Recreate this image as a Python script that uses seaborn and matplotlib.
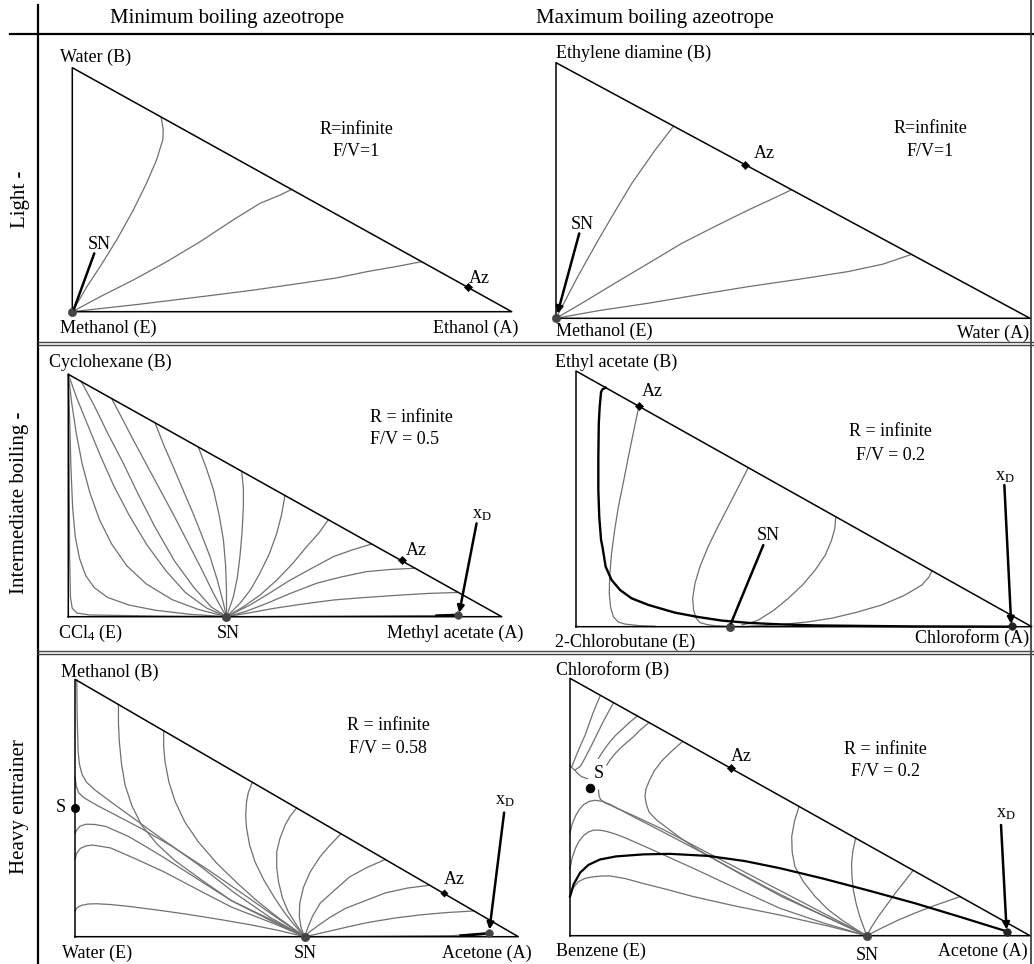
import matplotlib
matplotlib.use("Agg")
import matplotlib.pyplot as plt
import seaborn as sns
import pandas as pd

# ---------------------------------------------------------------------------
# data: profiles in triangle coordinates (x = x_A, y = x_B)
# ---------------------------------------------------------------------------

# light entrainer, min boiling azeotrope (methanol / ethanol / water)
p1_curves = [
    [(0, 0), (0.033, 0.102), (0.063, 0.184), (0.101, 0.294), (0.139, 0.417), (0.169, 0.527),
     (0.192, 0.623), (0.206, 0.705), (0.207, 0.746), (0.202, 0.798)],
    [(0, 0), (0.063, 0.061), (0.139, 0.130), (0.215, 0.205), (0.291, 0.287), (0.366, 0.376),
     (0.427, 0.444), (0.473, 0.478), (0.499, 0.501)],
    [(0, 0), (0.15, 0.03), (0.291, 0.061), (0.41, 0.088), (0.518, 0.116), (0.60, 0.138),
     (0.670, 0.164), (0.74, 0.186), (0.795, 0.205)],
]
p1_sn = (0.0, 0.0)
p1_az = (0.901, 0.102)
p1_sn_arrow = [(0.050, 0.239), (0.004, 0.012)]

# light entrainer, max boiling azeotrope (methanol / water / ethylene diamine)
p2_curves = [
    [(0, 0), (0.045, 0.16), (0.089, 0.306), (0.125, 0.42), (0.160, 0.528), (0.209, 0.658), (0.248, 0.752)],
    [(0, 0), (0.06, 0.065), (0.124, 0.137), (0.195, 0.215), (0.265, 0.293), (0.336, 0.36),
     (0.406, 0.424), (0.455, 0.466), (0.497, 0.503)],
    [(0, 0), (0.09, 0.03), (0.195, 0.059), (0.30, 0.092), (0.406, 0.124), (0.51, 0.152),
     (0.617, 0.183), (0.69, 0.212), (0.750, 0.250)],
]
p2_sn = (0.0, 0.0)
p2_az = (0.399, 0.600)
p2_sn_arrow = [(0.049, 0.332), (0.003, 0.018)]

# intermediate entrainer, min boiling azeotrope (CCl4 / methyl acetate / cyclohexane)
p3_curves = [
    [(0, 1), (0.002, 0.6), (0.003, 0.25), (0.005, 0.08), (0.009, 0.035), (0.02, 0.015), (0.05, 0.007),
     (0.2, 0.003), (0.365, 0)],
    [(0, 1), (0.003, 0.82), (0.006, 0.62), (0.010, 0.45), (0.016, 0.33), (0.026, 0.24), (0.04, 0.17),
     (0.06, 0.12), (0.09, 0.08), (0.14, 0.048), (0.2, 0.027), (0.28, 0.01), (0.365, 0)],
    [(0, 1), (0.008, 0.88), (0.018, 0.76), (0.032, 0.63), (0.05, 0.51), (0.072, 0.40), (0.1, 0.30),
     (0.135, 0.21), (0.18, 0.135), (0.24, 0.07), (0.3, 0.03), (0.365, 0)],
    [(0, 1), (0.02, 0.90), (0.045, 0.79), (0.075, 0.66), (0.105, 0.54), (0.14, 0.42), (0.18, 0.30),
     (0.225, 0.19), (0.27, 0.10), (0.32, 0.035), (0.365, 0)],
    [(0.03, 0.97), (0.06, 0.87), (0.09, 0.76), (0.125, 0.64), (0.16, 0.51), (0.2, 0.37), (0.245, 0.23),
     (0.29, 0.12), (0.33, 0.04), (0.365, 0)],
    [(0.1, 0.9), (0.125, 0.815), (0.15, 0.729), (0.181, 0.626), (0.212, 0.523), (0.243, 0.42),
     (0.273, 0.316), (0.305, 0.205), (0.335, 0.096), (0.352, 0.04), (0.365, 0)],
    [(0.2, 0.8), (0.221, 0.705), (0.242, 0.619), (0.265, 0.522), (0.288, 0.426), (0.308, 0.336),
     (0.327, 0.248), (0.344, 0.15), (0.358, 0.055), (0.365, 0)],
    [(0.3, 0.7), (0.319, 0.61), (0.335, 0.523), (0.348, 0.42), (0.358, 0.316), (0.363, 0.21),
     (0.365, 0.110), (0.365, 0)],
    [(0.4, 0.6), (0.404, 0.53), (0.404, 0.454), (0.401, 0.35), (0.396, 0.248), (0.39, 0.16),
     (0.381, 0.083), (0.365, 0)],
    [(0.5, 0.5), (0.492, 0.42), (0.481, 0.344), (0.464, 0.26), (0.442, 0.179), (0.42, 0.11),
     (0.396, 0.055), (0.365, 0)],
    [(0.6, 0.4), (0.578, 0.345), (0.55, 0.289), (0.518, 0.22), (0.481, 0.151), (0.443, 0.09),
     (0.404, 0.041), (0.365, 0)],
    [(0.7, 0.3), (0.656, 0.276), (0.612, 0.248), (0.562, 0.2), (0.512, 0.151), (0.465, 0.098),
     (0.419, 0.048), (0.365, 0)],
    [(0.8, 0.2), (0.745, 0.195), (0.688, 0.186), (0.63, 0.164), (0.573, 0.138), (0.515, 0.098),
     (0.458, 0.055), (0.41, 0.022), (0.365, 0)],
    [(0.9, 0.1), (0.83, 0.096), (0.765, 0.089), (0.69, 0.08), (0.612, 0.069), (0.54, 0.052),
     (0.473, 0.034), (0.415, 0.015), (0.365, 0)],
    [(0.365, 0), (0.6, 0.002), (0.86, 0.005), (0.9, 0.007)],
]
p3_profile = [(0.85, 0.004), (0.9, 0.007)]
p3_sn = (0.365, 0.0)
p3_az = (0.769, 0.232)
p3_xd = (0.9, 0.007)
p3_xd_arrow = [(0.942, 0.385), (0.902, 0.016)]

# intermediate entrainer, max boiling azeotrope (2-chlorobutane / chloroform / ethyl acetate)
p4_curves = [
    [(0.138, 0.862), (0.126, 0.76), (0.115, 0.665), (0.104, 0.565), (0.093, 0.469), (0.085, 0.38),
     (0.078, 0.287), (0.074, 0.2), (0.073, 0.130), (0.076, 0.075), (0.082, 0.039), (0.093, 0.018),
     (0.108, 0.010), (0.14, 0.004), (0.173, 0.002)],
    [(0.378, 0.622), (0.356, 0.545), (0.334, 0.469), (0.311, 0.39), (0.290, 0.313), (0.272, 0.235),
     (0.261, 0.169), (0.256, 0.11), (0.258, 0.065), (0.263, 0.035), (0.272, 0.016), (0.288, 0.008),
     (0.305, 0.004), (0.34, 0.001), (0.378, 0.0)],
    [(0.570, 0.430), (0.568, 0.385), (0.561, 0.339), (0.547, 0.28), (0.525, 0.222), (0.498, 0.165),
     (0.466, 0.111), (0.433, 0.063), (0.400, 0.026), (0.38, 0.013), (0.364, 0.007)],
    [(0.781, 0.219), (0.775, 0.195), (0.759, 0.163), (0.72, 0.122), (0.671, 0.085), (0.615, 0.056),
     (0.561, 0.033), (0.505, 0.018), (0.451, 0.009), (0.41, 0.004), (0.378, 0.002)],
]
p4_profile = [(0.065, 0.935), (0.058, 0.928), (0.055, 0.918), (0.052, 0.86), (0.050, 0.795), (0.049, 0.66),
              (0.049, 0.535), (0.051, 0.43), (0.055, 0.339), (0.058, 0.313), (0.065, 0.235), (0.078, 0.183),
              (0.097, 0.143), (0.122, 0.111), (0.159, 0.085), (0.217, 0.055), (0.268, 0.038), (0.32, 0.024),
              (0.378, 0.015), (0.45, 0.009), (0.525, 0.005), (0.63, 0.003), (0.744, 0.001), (0.956, 0.0)]
p4_sn = (0.338, 0.0)
p4_az = (0.138, 0.863)
p4_xd = (0.956, 0.003)
p4_sn_arrow = [(0.411, 0.319), (0.340, 0.013)]
p4_xd_arrow = [(0.940, 0.554), (0.955, 0.010)]

# heavy entrainer, min boiling azeotrope (water / acetone / methanol)
p5_curves = [
    [(0.004, 0.997), (0.005, 0.85), (0.007, 0.72), (0.010, 0.67), (0.016, 0.63), (0.026, 0.60),
     (0.045, 0.57), (0.08, 0.525), (0.128, 0.465), (0.2, 0.375), (0.278, 0.28), (0.36, 0.17),
     (0.44, 0.075), (0.518, 0)],
    [(0.0, 0.62), (0.003, 0.585), (0.008, 0.56), (0.02, 0.54), (0.05, 0.51), (0.1, 0.465), (0.15, 0.42),
     (0.22, 0.35), (0.3, 0.26), (0.38, 0.165), (0.45, 0.08), (0.518, 0)],
    [(0, 0.40), (0.004, 0.415), (0.012, 0.43), (0.025, 0.437), (0.045, 0.436), (0.07, 0.428),
     (0.12, 0.39), (0.16, 0.35), (0.203, 0.305), (0.28, 0.22), (0.353, 0.14), (0.45, 0.06), (0.518, 0)],
    [(0, 0.30), (0.004, 0.325), (0.012, 0.343), (0.025, 0.353), (0.04, 0.356), (0.08, 0.345),
     (0.14, 0.3), (0.203, 0.25), (0.28, 0.18), (0.353, 0.115), (0.45, 0.05), (0.518, 0)],
    [(0, 0.10), (0.005, 0.113), (0.015, 0.122), (0.03, 0.127), (0.049, 0.128), (0.08, 0.125),
     (0.12, 0.118), (0.18, 0.105), (0.25, 0.088), (0.33, 0.066), (0.4, 0.045), (0.46, 0.024), (0.518, 0)],
    [(0.098, 0.902), (0.098, 0.83), (0.1, 0.758), (0.105, 0.67), (0.113, 0.589), (0.128, 0.51),
     (0.150, 0.434), (0.185, 0.36), (0.226, 0.295), (0.29, 0.215), (0.353, 0.14), (0.45, 0.055), (0.518, 0)],
    [(0.2, 0.8), (0.2, 0.74), (0.203, 0.680), (0.212, 0.6), (0.226, 0.525), (0.248, 0.445),
     (0.278, 0.369), (0.32, 0.285), (0.368, 0.205), (0.41, 0.14), (0.45, 0.085), (0.49, 0.035), (0.518, 0)],
    [(0.4, 0.6), (0.391, 0.56), (0.387, 0.525), (0.385, 0.47), (0.387, 0.421), (0.394, 0.355),
     (0.406, 0.291), (0.426, 0.22), (0.451, 0.149), (0.47, 0.1), (0.49, 0.055), (0.518, 0)],
    [(0.5, 0.5), (0.486, 0.47), (0.474, 0.434), (0.462, 0.38), (0.455, 0.330), (0.455, 0.27),
     (0.459, 0.214), (0.468, 0.15), (0.481, 0.097), (0.5, 0.045), (0.518, 0)],
    [(0.6, 0.4), (0.575, 0.355), (0.553, 0.311), (0.53, 0.25), (0.515, 0.19), (0.507, 0.13),
     (0.506, 0.078), (0.51, 0.035), (0.518, 0)],
    [(0.7, 0.3), (0.66, 0.27), (0.62, 0.233), (0.585, 0.18), (0.553, 0.13), (0.536, 0.08),
     (0.526, 0.039), (0.518, 0)],
    [(0.8, 0.2), (0.75, 0.189), (0.70, 0.17), (0.655, 0.14), (0.61, 0.11), (0.575, 0.075),
     (0.55, 0.045), (0.53, 0.02), (0.518, 0)],
    [(0.9, 0.1), (0.84, 0.094), (0.78, 0.085), (0.72, 0.072), (0.66, 0.055), (0.61, 0.036),
     (0.57, 0.02), (0.54, 0.008), (0.518, 0)],
    [(0.518, 0), (0.7, 0.002), (0.85, 0.004), (0.934, 0.013)],
]
p5_profile = [(0.87, 0.004), (0.934, 0.013)]
p5_sn = (0.518, 0.0)
p5_az = (0.833, 0.168)
p5_s = (0.0, 0.5)
p5_xd = (0.934, 0.013)
p5_xd_arrow = [(0.968, 0.482), (0.935, 0.028)]

# heavy entrainer, max boiling azeotrope (benzene / acetone / chloroform)
p6_curves = [
    [(0.065, 0.929), (0.058, 0.9), (0.051, 0.870), (0.042, 0.825), (0.033, 0.780), (0.023, 0.74),
     (0.014, 0.702), (0.008, 0.675), (0.004, 0.657)],
    [(0.094, 0.903), (0.080, 0.858), (0.069, 0.82), (0.058, 0.780), (0.047, 0.74), (0.036, 0.702),
     (0.028, 0.675), (0.022, 0.657), (0.011, 0.644)],
    [(0.145, 0.851), (0.13, 0.83), (0.116, 0.806), (0.1, 0.78), (0.087, 0.754), (0.077, 0.73),
     (0.069, 0.709), (0.062, 0.689)],
    [(0.170, 0.825), (0.153, 0.8), (0.138, 0.773), (0.123, 0.75), (0.109, 0.728), (0.097, 0.705),
     (0.087, 0.683), (0.080, 0.663)],
    [(0.0, 0.66), (0.006, 0.65), (0.012, 0.64), (0.018, 0.628), (0.025, 0.618), (0.038, 0.61)],
    [(0.245, 0.755), (0.22, 0.715), (0.20, 0.68), (0.183, 0.64), (0.172, 0.60), (0.165, 0.57),
     (0.163, 0.54), (0.166, 0.51), (0.172, 0.48), (0.188, 0.45), (0.21, 0.42), (0.24, 0.38),
     (0.279, 0.333), (0.37, 0.24), (0.46, 0.152), (0.56, 0.07), (0.645, 0)],
    [(0.062, 0.566), (0.063, 0.545), (0.066, 0.53), (0.075, 0.517), (0.09, 0.505), (0.14, 0.465),
     (0.2, 0.415), (0.28, 0.34), (0.35, 0.275), (0.43, 0.2), (0.5, 0.135), (0.575, 0.065), (0.645, 0)],
    [(0, 0.40), (0.005, 0.435), (0.012, 0.465), (0.02, 0.49), (0.03, 0.51), (0.042, 0.522),
     (0.055, 0.526), (0.07, 0.522), (0.085, 0.512), (0.14, 0.46), (0.2, 0.405), (0.28, 0.33),
     (0.35, 0.262), (0.43, 0.185), (0.5, 0.122), (0.575, 0.058), (0.645, 0)],
    [(0, 0.262), (0.005, 0.305), (0.012, 0.34), (0.02, 0.368), (0.03, 0.39), (0.04, 0.403),
     (0.051, 0.41), (0.065, 0.41), (0.08, 0.405), (0.1, 0.394), (0.123, 0.378), (0.19, 0.325),
     (0.268, 0.262), (0.36, 0.185), (0.457, 0.106), (0.55, 0.05), (0.645, 0)],
    [(0, 0.152), (0.006, 0.183), (0.018, 0.210), (0.033, 0.223), (0.051, 0.229), (0.07, 0.232),
     (0.087, 0.232), (0.12, 0.222), (0.159, 0.203), (0.21, 0.18), (0.268, 0.152), (0.36, 0.115),
     (0.457, 0.080), (0.56, 0.038), (0.645, 0)],
    [(0.498, 0.502), (0.488, 0.445), (0.482, 0.385), (0.483, 0.325), (0.489, 0.268), (0.508, 0.208),
     (0.533, 0.152), (0.56, 0.103), (0.591, 0.061), (0.62, 0.027), (0.645, 0)],
    [(0.621, 0.379), (0.615, 0.33), (0.612, 0.281), (0.613, 0.23), (0.616, 0.177), (0.622, 0.125),
     (0.630, 0.074), (0.638, 0.035), (0.645, 0)],
    [(0.746, 0.254), (0.727, 0.21), (0.707, 0.165), (0.688, 0.118), (0.670, 0.074), (0.656, 0.035),
     (0.645, 0)],
    [(0.848, 0.152), (0.818, 0.133), (0.786, 0.113), (0.75, 0.088), (0.714, 0.061), (0.68, 0.032),
     (0.645, 0)],
]
p6_profile = [(0, 0.152), (0.008, 0.20), (0.022, 0.245), (0.04, 0.275), (0.065, 0.296), (0.1, 0.308),
              (0.16, 0.316), (0.217, 0.318), (0.3, 0.31), (0.38, 0.29), (0.457, 0.262), (0.55, 0.222),
              (0.65, 0.175), (0.75, 0.126), (0.85, 0.072), (0.951, 0.016)]
p6_sn = (0.645, 0.0)
p6_az = (0.349, 0.651)
p6_s = (0.043, 0.573)
p6_xd = (0.951, 0.016)
p6_xd_arrow = [(0.937, 0.430), (0.949, 0.024)]

col_titles = ["Minimum boiling azeotrope", "Maximum boiling azeotrope"]
row_titles = ["Light -", "Intermediate boiling -", "Heavy entrainer"]

# ---------------------------------------------------------------------------
# layout / style
# ---------------------------------------------------------------------------
W, H = 1034, 964
GRAY = "#707070"
FS = 13

plt.rcParams["font.family"] = ["Liberation Serif", "DejaVu Serif"]
plt.rcParams["mathtext.fontset"] = "custom"
plt.rcParams["mathtext.rm"] = "Liberation Serif"
plt.rcParams["mathtext.it"] = "Liberation Serif:italic"

fig = plt.figure(figsize=(W / 100, H / 100), dpi=100)
bg = fig.add_axes([0, 0, 1, 1])
bg.set_xlim(0, W)
bg.set_ylim(H, 0)
bg.axis("off")

# frame lines
bg.plot([38, 38], [5, 964], color="black", lw=1.6)
bg.plot([10, W], [34, 34], color="black", lw=1.6)
bg.plot([1031, 1031], [0, 964], color="#333333", lw=1.2)
for y in (341.5, 344.5, 650.5, 653.5):
    bg.plot([38, W], [y, y], color="#444444", lw=1.0)

bg.text(227, 18, col_titles[0], fontsize=15, ha="center", va="center")
bg.text(655, 18, col_titles[1], fontsize=15, ha="center", va="center")
for txt, yc in zip(row_titles, [199, 503, 807]):
    bg.text(20, yc, txt, fontsize=15, rotation=90, ha="center", va="center")

PAD = 0.04


def panel_axes(x0, x1, ytop, ybot):
    w, h = x1 - x0, ybot - ytop
    ax = fig.add_axes([(x0 - PAD * w) / W, 1 - (ybot + PAD * h) / H,
                       (1 + 2 * PAD) * w / W, (1 + 2 * PAD) * h / H])
    ax.set_xlim(-PAD, 1 + PAD)
    ax.set_ylim(-PAD, 1 + PAD)
    ax.axis("off")
    ax.plot([0, 1, 0, 0], [0, 0, 1, 0], color="black", lw=1.1, zorder=3)
    return ax


def draw_curves(ax, curves, color, lw):
    frames = [pd.DataFrame(c, columns=["xA", "xB"]).assign(curve=i) for i, c in enumerate(curves)]
    df = pd.concat(frames, ignore_index=True)
    sns.lineplot(data=df, x="xA", y="xB", units="curve", estimator=None, sort=False,
                 color=color, linewidth=lw, ax=ax, legend=False)
    ax.set_xlabel("")
    ax.set_ylabel("")


def dot(ax, pt, marker="o", size=30, color="black"):
    sns.scatterplot(x=[pt[0]], y=[pt[1]], marker=marker, s=size, color=color,
                    edgecolor=color, ax=ax, zorder=6, legend=False)


def arrow(ax, pts, head=True):
    ax.annotate("", xy=pts[1], xytext=pts[0],
                arrowprops=dict(arrowstyle="-|>" if head else "-", color="black", lw=1.8,
                                mutation_scale=10, shrinkA=0, shrinkB=0), zorder=7)


def put(ax, x, y, s, ha="center"):
    ax.text(x, y, s, fontsize=FS, ha=ha, va="center")


# panel 1
ax = panel_axes(72.3, 511.7, 67.7, 311.7)
draw_curves(ax, p1_curves, GRAY, 0.9)
arrow(ax, p1_sn_arrow, head=False)
dot(ax, p1_sn, size=35, color="#444444")
dot(ax, p1_az, marker="D", size=18)
put(ax, 0.647, 0.747, "R=infinite")
put(ax, 0.647, 0.656, "F/V=1")
put(ax, 0.062, 0.275, "SN")
put(ax, 0.926, 0.137, "Az")
bg.text(60, 57, "Water (B)", fontsize=FS, va="center")
bg.text(60, 328, "Methanol (E)", fontsize=FS, va="center")
bg.text(518, 328, "Ethanol (A)", fontsize=FS, va="center", ha="right")

# panel 2
ax = panel_axes(556, 1030, 62.7, 318.3)
draw_curves(ax, p2_curves, GRAY, 0.9)
arrow(ax, p2_sn_arrow)
dot(ax, p2_sn, size=35, color="#444444")
dot(ax, p2_az, marker="D", size=18)
put(ax, 0.789, 0.743, "R=infinite")
put(ax, 0.789, 0.652, "F/V=1")
put(ax, 0.056, 0.368, "SN")
put(ax, 0.439, 0.643, "Az")
bg.text(556, 53, "Ethylene diamine (B)", fontsize=FS, va="center")
bg.text(556, 331, "Methanol (E)", fontsize=FS, va="center")
bg.text(1029, 333, "Water (A)", fontsize=FS, va="center", ha="right")

# panel 3
ax = panel_axes(68.3, 501.7, 374.3, 616.7)
draw_curves(ax, p3_curves, GRAY, 0.9)
draw_curves(ax, [p3_profile], "black", 2.0)
arrow(ax, p3_xd_arrow)
dot(ax, p3_sn, size=35, color="#444444")
dot(ax, p3_xd, size=30, color="#444444")
dot(ax, p3_az, marker="D", size=18)
put(ax, 0.696, 0.823, "R = infinite", ha="left")
put(ax, 0.696, 0.733, "F/V = 0.5", ha="left")
put(ax, 0.778, 0.275, "Az", ha="left")
put(ax, 0.955, 0.42, r"x$_\mathrm{D}$")
bg.text(49, 362, "Cyclohexane (B)", fontsize=FS, va="center")
bg.text(58, 633, r"CCl$_4$ (E)", fontsize=FS, va="center")
bg.text(228, 633, "SN", fontsize=FS, va="center", ha="center")
bg.text(387, 633, "Methyl acetate (A)", fontsize=FS, va="center")

# panel 4
ax = panel_axes(576, 1031.7, 371, 626.7)
draw_curves(ax, p4_curves, GRAY, 0.9)
draw_curves(ax, [p4_profile], "black", 1.7)
arrow(ax, p4_sn_arrow, head=False)
arrow(ax, p4_xd_arrow)
dot(ax, p4_sn, size=35, color="#444444")
dot(ax, p4_xd, size=30, color="#222222")
dot(ax, p4_az, marker="D", size=18)
put(ax, 0.691, 0.763, "R = infinite")
put(ax, 0.691, 0.671, "F/V = 0.2")
put(ax, 0.168, 0.919, "Az")
put(ax, 0.422, 0.355, "SN")
put(ax, 0.940, 0.587, r"x$_\mathrm{D}$")
bg.text(555, 362, "Ethyl acetate (B)", fontsize=FS, va="center")
bg.text(555, 642, "2-Chlorobutane (E)", fontsize=FS, va="center")
bg.text(1029, 638, "Chloroform (A)", fontsize=FS, va="center", ha="right")

# panel 5
ax = panel_axes(75, 518.3, 679.3, 936.7)
draw_curves(ax, p5_curves, GRAY, 0.9)
draw_curves(ax, [p5_profile], "black", 2.0)
arrow(ax, p5_xd_arrow)
dot(ax, p5_sn, size=35, color="#444444")
dot(ax, p5_xd, size=30, color="#444444")
dot(ax, p5_s, size=35)
dot(ax, p5_az, marker="D", size=14)
put(ax, 0.707, 0.819, "R = infinite")
put(ax, 0.707, 0.732, "F/V = 0.58")
put(ax, 0.855, 0.222, "Az")
put(ax, -0.033, 0.5, "S")
put(ax, 0.970, 0.531, r"x$_\mathrm{D}$")
bg.text(61, 672, "Methanol (B)", fontsize=FS, va="center")
bg.text(62, 953, "Water (E)", fontsize=FS, va="center")
bg.text(305, 953, "SN", fontsize=FS, va="center", ha="center")
bg.text(442, 953, "Acetone (A)", fontsize=FS, va="center")

# panel 6
ax = panel_axes(570, 1030, 678.3, 935.7)
draw_curves(ax, p6_curves, GRAY, 0.9)
draw_curves(ax, [p6_profile], "black", 1.6)
arrow(ax, p6_xd_arrow)
dot(ax, p6_sn, size=35, color="#444444")
dot(ax, p6_xd, size=30, color="#222222")
dot(ax, p6_s, size=40)
dot(ax, p6_az, marker="D", size=18)
put(ax, 0.685, 0.724, "R = infinite")
put(ax, 0.685, 0.637, "F/V = 0.2")
put(ax, 0.372, 0.698, "Az")
put(ax, 0.063, 0.631, "S")
put(ax, 0.947, 0.475, r"x$_\mathrm{D}$")
bg.text(556, 670, "Chloroform (B)", fontsize=FS, va="center")
bg.text(556, 951, "Benzene (E)", fontsize=FS, va="center")
bg.text(867, 955, "SN", fontsize=FS, va="center", ha="center")
bg.text(1028, 951, "Acetone (A)", fontsize=FS, va="center", ha="right")

fig.savefig("out.png", dpi=100)
